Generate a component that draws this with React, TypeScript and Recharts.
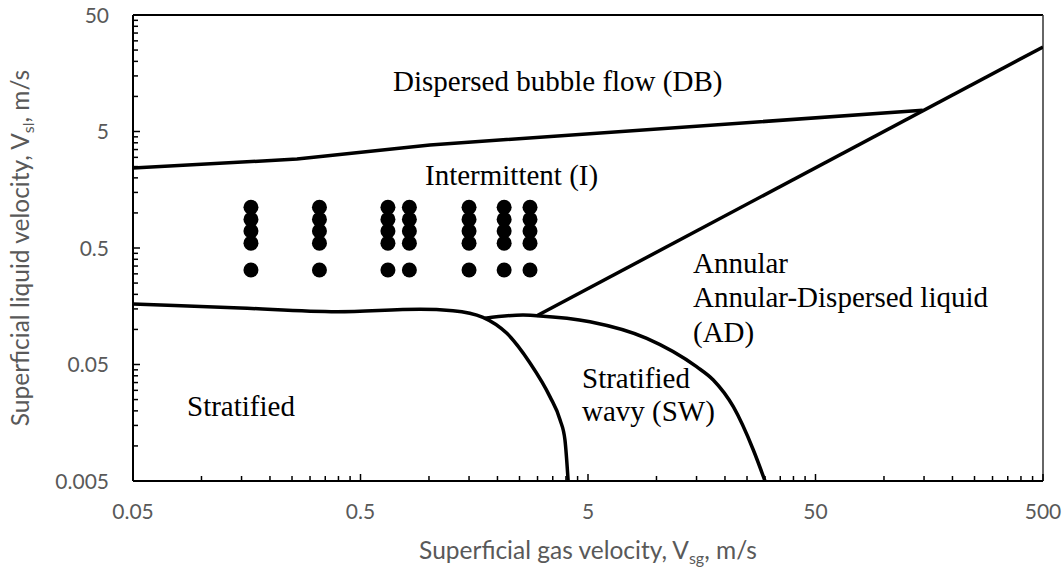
import React from 'react';
import { ComposedChart, Line, Scatter, XAxis, YAxis, ReferenceLine, Customized } from 'recharts';

// Axis ticks
const xMajorTicks = [0.05, 0.5, 5, 50, 500];
const yMajorTicks = [0.005, 0.05, 0.5, 5, 50];
const minorMultipliers = [2, 3, 4, 5, 6, 7, 8, 9];

// Boundary curves (superficial gas velocity x, superficial liquid velocity y), m/s
const dispersedBubbleBoundary = [
  { x: 0.05, y: 2.43 },
  { x: 0.263, y: 2.9 },
  { x: 1.01, y: 3.83 },
  { x: 148, y: 7.6 },
];

const annularBoundary = [
  { x: 2.98, y: 0.131 },
  { x: 500, y: 26.6 },
];

const stratifiedBoundary = [
  { x: 0.05, y: 0.1653 },
  { x: 0.148, y: 0.1527 },
  { x: 0.394, y: 0.142 },
  { x: 0.913, y: 0.1489 },
  { x: 1.275, y: 0.1449 },
  { x: 1.727, y: 0.1271 },
  { x: 2.2, y: 0.0926 },
  { x: 2.78, y: 0.0515 },
  { x: 3.4, y: 0.0265 },
  { x: 3.77, y: 0.0167 },
  { x: 3.96, y: 0.01125 },
  { x: 4.09, y: 0.005 },
];

const stratifiedWavyBoundary = [
  { x: 1.763, y: 0.1246 },
  { x: 2.59, y: 0.133 },
  { x: 2.98, y: 0.1312 },
  { x: 5.1, y: 0.1165 },
  { x: 9.06, y: 0.0839 },
  { x: 15.0, y: 0.0479 },
  { x: 17.77, y: 0.0368 },
  { x: 21.76, y: 0.0217 },
  { x: 26.65, y: 0.00923 },
  { x: 30.0, y: 0.005 },
];

// Experimental test points
const testGasVelocities = [0.165, 0.33, 0.66, 0.82, 1.5, 2.14, 2.78];
const testLiquidVelocities = [1.12, 0.88, 0.7, 0.55, 0.324];

const testPoints = testGasVelocities.flatMap((x) => testLiquidVelocities.map((y) => ({ x, y })));

const xTicks = [
  ...xMajorTicks,
  ...xMajorTicks.slice(0, -1).flatMap((m) => minorMultipliers.map((k) => m * k)),
].sort((a, b) => a - b);
const yTicks = [
  ...yMajorTicks,
  ...yMajorTicks.slice(0, -1).flatMap((m) => minorMultipliers.map((k) => m * k)),
].sort((a, b) => a - b);

const isMajor = (list: number[], v: number) => list.some((m) => Math.abs(m - v) < 1e-9 * m);

const TICK_FONT = 'Lato, "Open Sans", sans-serif';
const SERIF = '"Liberation Serif", "Times New Roman", serif';
const GREY = '#595959';

function XTick(props: any) {
  const { x, y, payload } = props;
  const v = payload.value;
  const major = isMajor(xMajorTicks, v);
  return (
    <g>
      <line x1={x} x2={x} y1={y} y2={y - (major ? 7 : 5)} stroke="#000" strokeWidth={1.5} />
      {major && (
        <text x={x} y={y + 38} textAnchor="middle" fill={GREY} fontFamily={TICK_FONT} fontSize={21}>
          {String(v)}
        </text>
      )}
    </g>
  );
}

function YTick(props: any) {
  const { x, y, payload } = props;
  const v = payload.value;
  const major = isMajor(yMajorTicks, v);
  return (
    <g>
      <line x1={x} x2={x + (major ? 7 : 5)} y1={y} y2={y} stroke="#000" strokeWidth={1.5} />
      {major && (
        <text x={x - 24} y={y + 7.6} textAnchor="end" fill={GREY} fontFamily={TICK_FONT} fontSize={21}>
          {String(v)}
        </text>
      )}
    </g>
  );
}

function Dot(props: any) {
  const { cx, cy } = props;
  return <circle cx={cx} cy={cy} r={7.5} fill="#000" />;
}

function Labels() {
  const t = { fontFamily: SERIF, fontSize: 29, fill: '#000' } as const;
  return (
    <g>
      <text x={393} y={91} {...t}>Dispersed bubble flow (DB)</text>
      <text x={425} y={185} {...t}>Intermittent (I)</text>
      <text x={693} y={273} {...t}>Annular</text>
      <text x={693} y={307} {...t}>Annular-Dispersed liquid</text>
      <text x={693} y={342} {...t}>(AD)</text>
      <text x={582} y={388} {...t}>Stratified</text>
      <text x={582} y={421} {...t}>wavy (SW)</text>
      <text x={187} y={416} {...t}>Stratified</text>
      <text x={588} y={559} textAnchor="middle" fill={GREY} fontFamily={TICK_FONT} fontSize={24.5}>
        Superficial gas velocity, V<tspan dy={5} fontSize={16}>sg</tspan>
        <tspan dy={-5}>, m/s</tspan>
      </text>
      <text
        transform="translate(29,248) rotate(-90)"
        textAnchor="middle"
        fill={GREY}
        fontFamily={TICK_FONT}
        fontSize={24.5}
      >
        Superficial liquid velocity, V<tspan dy={5} fontSize={16}>sl</tspan>
        <tspan dy={-5}>, m/s</tspan>
      </text>
    </g>
  );
}

export default function App() {
  return (
    <div style={{ width: 1064, height: 569 }}>
      <style>{'html,body{margin:0;padding:0;overflow:hidden;}'}</style>
      <ComposedChart width={1064} height={569} margin={{ top: 15, right: 21, left: 0, bottom: 0 }}>
        <XAxis
          dataKey="x"
          type="number"
          scale="log"
          domain={[0.05, 500]}
          allowDataOverflow
          ticks={xTicks}
          interval={0}
          tick={<XTick />}
          tickLine={false}
          tickSize={0}
          tickMargin={0}
          height={88}
          axisLine={{ stroke: '#000', strokeWidth: 2 }}
        />
        <YAxis
          dataKey="y"
          type="number"
          scale="log"
          domain={[0.005, 50]}
          allowDataOverflow
          ticks={yTicks}
          interval={0}
          tick={<YTick />}
          tickLine={false}
          tickSize={0}
          tickMargin={0}
          width={133}
          axisLine={{ stroke: '#000', strokeWidth: 2 }}
        />
        <ReferenceLine y={50} stroke="#000" strokeWidth={2} />
        <ReferenceLine x={500} stroke="#333" strokeWidth={1.5} />
        <Line data={dispersedBubbleBoundary} dataKey="y" type="linear" stroke="#000" strokeWidth={3.5} dot={false} isAnimationActive={false} />
        <Line data={annularBoundary} dataKey="y" type="linear" stroke="#000" strokeWidth={3.5} dot={false} isAnimationActive={false} />
        <Line data={stratifiedBoundary} dataKey="y" type="monotone" stroke="#000" strokeWidth={3.5} dot={false} isAnimationActive={false} />
        <Line data={stratifiedWavyBoundary} dataKey="y" type="monotone" stroke="#000" strokeWidth={3.5} dot={false} isAnimationActive={false} />
        <Scatter data={testPoints} dataKey="y" fill="#000" shape={<Dot />} isAnimationActive={false} />
        <Customized component={<Labels />} />
      </ComposedChart>
    </div>
  );
}
